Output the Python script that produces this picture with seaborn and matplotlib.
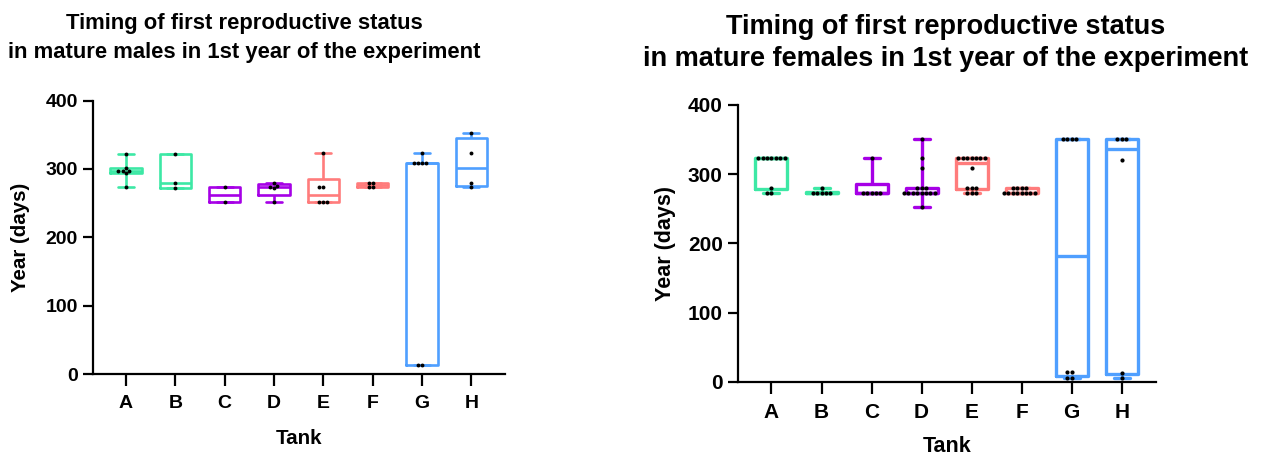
import numpy as np
import pandas as pd
import matplotlib
matplotlib.use("Agg")
import matplotlib as mpl
import matplotlib.pyplot as plt
import seaborn as sns

# ---- data: day of first reproductive status, per tank ----
tanks = ["A", "B", "C", "D", "E", "F", "G", "H"]

male_A = [273, 294, 297, 297, 297, 301, 322]
male_B = [272, 279, 322]
male_C = [251, 273]
male_D = [251, 272, 273, 275, 280]
male_E = [251, 251, 251, 273, 273, 323]
male_F = [273, 273, 279, 279]
male_G = [13, 13, 309, 309, 309, 309, 323]
male_H = [273, 280, 323, 352]

female_A = [273, 273, 280, 323, 323, 323, 323, 323, 323, 323]
female_B = [273, 273, 273, 273, 273, 280]
female_C = [273, 273, 273, 273, 273, 323]
female_D = [252, 273, 273, 273, 273, 273, 273, 273, 273, 280, 280, 280, 309, 323, 351]
female_E = [273, 273, 273, 280, 280, 280, 309, 323, 323, 323, 323, 323, 323, 323]
female_F = [273, 273, 273, 273, 273, 273, 273, 273, 280, 280, 280, 280]
female_G = [6, 6, 14, 14, 351, 351, 351, 351]
female_H = [6, 13, 321, 351, 351, 351]

tank_colors = ["#3DE8A5", "#3DE8A5", "#A600E6", "#A600E6",
               "#FF7C7C", "#FF7C7C", "#4F9FFF", "#4F9FFF"]

male_title = "Timing of first reproductive status\nin mature males in 1st year of the experiment"
female_title = "Timing of first reproductive status\nin mature females in 1st year of the experiment"
y_label = "Year (days)"
x_label = "Tank"
y_ticks = [0, 100, 200, 300, 400]


def to_frame(groups):
    rows = [(t, v) for t, vals in zip(tanks, groups) for v in vals]
    return pd.DataFrame(rows, columns=["Tank", "Days"])


males = to_frame([male_A, male_B, male_C, male_D, male_E, male_F, male_G, male_H])
females = to_frame([female_A, female_B, female_C, female_D,
                    female_E, female_F, female_G, female_H])

# Quartiles by the (n+1)p rank rule (GraphPad Prism convention)
_base_stats = mpl.cbook.boxplot_stats


def prism_boxplot_stats(X, *args, **kwargs):
    stats = _base_stats(X, *args, **kwargs)
    groups = X if isinstance(X, (list, tuple)) else [X]
    for s, g in zip(stats, groups):
        vals = np.asarray(g, dtype=float).ravel()
        q1, med, q3 = np.percentile(vals, [25, 50, 75], method="weibull")
        s.update(q1=q1, med=med, q3=q3, iqr=q3 - q1)
    return stats


mpl.cbook.boxplot_stats = prism_boxplot_stats

sns.set_theme(style="ticks")
plt.rcParams["font.family"] = ["Liberation Sans", "DejaVu Sans"]
plt.rcParams["font.weight"] = "bold"
plt.rcParams["axes.labelweight"] = "bold"
plt.rcParams["text.color"] = "black"
plt.rcParams["axes.labelcolor"] = "black"
plt.rcParams["xtick.color"] = "black"
plt.rcParams["ytick.color"] = "black"

palette = dict(zip(tanks, tank_colors))

fig = plt.figure(figsize=(12.68, 4.55), dpi=100)
ax_m = fig.add_axes([0.0733, 0.178, 0.3249, 0.601])
ax_f = fig.add_axes([0.582, 0.1605, 0.3294, 0.609])


def draw_panel(ax, df, lw, dot, tick_fs, label_fs, ypad, xpad):
    sns.boxplot(data=df, x="Tank", y="Days", hue="Tank", order=tanks,
                hue_order=tanks, palette=palette, fill=False, whis=(0, 100),
                showfliers=False, width=0.64, linewidth=lw, legend=False,
                ax=ax)
    sns.swarmplot(data=df, x="Tank", y="Days", order=tanks, color="black",
                  size=dot, linewidth=0, ax=ax, zorder=4)
    ax.set_ylim(0, 400)
    ax.set_xlim(-0.67, 7.68)
    ax.set_yticks(y_ticks)
    ax.set_ylabel(y_label, fontsize=label_fs, fontweight="bold", labelpad=ypad)
    ax.set_xlabel(x_label, fontsize=label_fs, fontweight="bold", labelpad=xpad)
    sns.despine(ax=ax)
    for side in ("left", "bottom"):
        ax.spines[side].set_linewidth(1.6)
        ax.spines[side].set_color("black")
    ax.tick_params(axis="both", width=1.6, length=7.5, color="black",
                   labelsize=tick_fs, labelcolor="black")
    ax.tick_params(axis="x", length=8.5, pad=6.5)
    for lab in ax.get_xticklabels() + ax.get_yticklabels():
        lab.set_fontweight("bold")


draw_panel(ax_m, males, lw=1.9, dot=2.8, tick_fs=14, label_fs=14.8, ypad=11, xpad=12.5)
draw_panel(ax_f, females, lw=2.4, dot=3.0, tick_fs=15, label_fs=15.5, ypad=8.5, xpad=10.5)

fig.text(244 / 1268, 1 - 38 / 455, male_title, ha="center", va="center",
         fontsize=15.8, fontweight="bold", linespacing=1.55)
fig.text(946 / 1268, 1 - 43 / 455, female_title, ha="center", va="center",
         fontsize=19.5, fontweight="bold", linespacing=1.32)

fig.savefig("out.png", dpi=100, facecolor="white")
